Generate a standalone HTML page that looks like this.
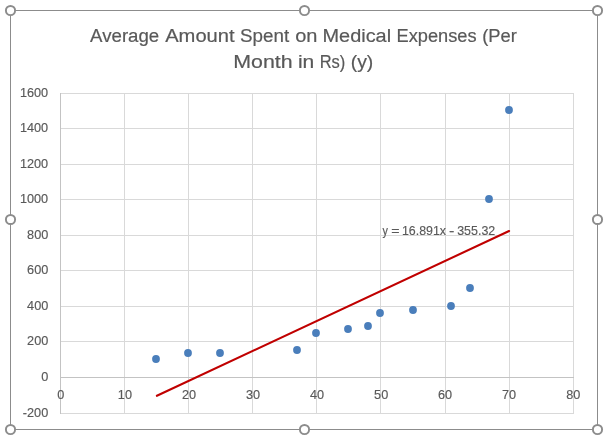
<!DOCTYPE html>
<html lang="en"><head><meta charset="utf-8"><title>Chart</title>
<style>html,body{margin:0;padding:0;background:#fff}body{width:605px;height:439px;overflow:hidden}svg{display:block}text{font-family:"Liberation Sans",sans-serif;fill:#595959;stroke:#595959;stroke-width:.15px}</style></head><body>
<svg width="605" height="439" viewBox="0 0 605 439">
<rect width="605" height="439" fill="#fff"/>
<rect x="10.5" y="10.5" width="587" height="419" fill="none" stroke="#8c8c8c" stroke-width="1"/>
<path d="M60 93.5H574M60 128.5H574M60 164.5H574M60 199.5H574M60 235.5H574M60 270.5H574M60 306.5H574M60 341.5H574M60 377.5H574M60 413.5H574M60.5 93V414M124.5 93V414M188.5 93V414M252.5 93V414M316.5 93V414M380.5 93V414M445.5 93V414M509.5 93V414M573.5 93V414" fill="none" stroke="#d9d9d9" stroke-width="1"/>
<path d="M60.5 93V414M60 377.5H574" fill="none" stroke="#c3c3c3" stroke-width="1"/>
<text id="t1" y="42" font-size="18.8" style="stroke-width:.2px"><tspan x="90.08" textLength="69.14" lengthAdjust="spacingAndGlyphs">Average</tspan> <tspan x="165.17" textLength="69.45" lengthAdjust="spacingAndGlyphs">Amount</tspan> <tspan x="240.02" textLength="49.12" lengthAdjust="spacingAndGlyphs">Spent</tspan> <tspan x="295.2" textLength="22.25" lengthAdjust="spacingAndGlyphs">on</tspan> <tspan x="322.51" textLength="68.58" lengthAdjust="spacingAndGlyphs">Medical</tspan> <tspan x="396.54" textLength="80.07" lengthAdjust="spacingAndGlyphs">Expenses</tspan> <tspan x="482.2" textLength="34.65" lengthAdjust="spacingAndGlyphs">(Per</tspan></text>
<text id="t2" y="68" font-size="18.8" style="stroke-width:.2px"><tspan x="233.29" textLength="59.37" lengthAdjust="spacingAndGlyphs">Month</tspan> <tspan x="297.9" textLength="16.4" lengthAdjust="spacingAndGlyphs">in</tspan> <tspan x="319.68" textLength="25.69" lengthAdjust="spacingAndGlyphs">Rs)</tspan> <tspan x="350.74" textLength="22.55" lengthAdjust="spacingAndGlyphs">(y)</tspan></text>
<text x="19.95" y="97.0" font-size="12.7">1600</text>
<text x="19.95" y="132.0" font-size="12.7">1400</text>
<text x="19.95" y="168.0" font-size="12.7">1200</text>
<text x="19.95" y="203.0" font-size="12.7">1000</text>
<text x="27.08" y="239.0" font-size="12.7">800</text>
<text x="27.08" y="274.0" font-size="12.7">600</text>
<text x="27.08" y="310.0" font-size="12.7">400</text>
<text x="27.08" y="345.0" font-size="12.7">200</text>
<text x="41.20" y="381.0" font-size="12.7">0</text>
<text x="22.83" y="417.0" font-size="12.7">-200</text>
<text x="57.15" y="399" font-size="12.7">0</text>
<text x="117.84" y="399" font-size="12.7">10</text>
<text x="182.03" y="399" font-size="12.7">20</text>
<text x="245.94" y="399" font-size="12.7">30</text>
<text x="310.06" y="399" font-size="12.7">40</text>
<text x="374.09" y="399" font-size="12.7">50</text>
<text x="437.98" y="399" font-size="12.7">60</text>
<text x="501.98" y="399" font-size="12.7">70</text>
<text x="566.19" y="399" font-size="12.7">80</text>
<path d="M156.9 395.8L509.1 231" stroke="#c00000" stroke-width="2.1" fill="none" stroke-linecap="round"/>
<circle cx="156" cy="359" r="3.9" fill="#4a7ebb"/>
<circle cx="188" cy="353" r="3.9" fill="#4a7ebb"/>
<circle cx="220" cy="353" r="3.9" fill="#4a7ebb"/>
<circle cx="297" cy="350" r="3.9" fill="#4a7ebb"/>
<circle cx="316" cy="333" r="3.9" fill="#4a7ebb"/>
<circle cx="348" cy="329" r="3.9" fill="#4a7ebb"/>
<circle cx="368" cy="326" r="3.9" fill="#4a7ebb"/>
<circle cx="380" cy="313" r="3.9" fill="#4a7ebb"/>
<circle cx="413" cy="310" r="3.9" fill="#4a7ebb"/>
<circle cx="451" cy="306" r="3.9" fill="#4a7ebb"/>
<circle cx="470" cy="288" r="3.9" fill="#4a7ebb"/>
<circle cx="489" cy="199" r="3.9" fill="#4a7ebb"/>
<circle cx="509" cy="110" r="3.9" fill="#4a7ebb"/>
<text id="eq" y="235" font-size="12.7"><tspan x="382.49" textLength="5.39" lengthAdjust="spacingAndGlyphs">y</tspan> <tspan x="391.2" textLength="8.36" lengthAdjust="spacingAndGlyphs">=</tspan> <tspan x="401.92" textLength="44.13" lengthAdjust="spacingAndGlyphs">16.891x</tspan> <tspan x="449.11" textLength="5.36" lengthAdjust="spacingAndGlyphs">-</tspan> <tspan x="457.21" textLength="38.06" lengthAdjust="spacingAndGlyphs">355.32</tspan></text>
<circle cx="10.5" cy="10.5" r="4.6" fill="#fff" stroke="#8c8c8c" stroke-width="1.95"/>
<circle cx="304.5" cy="10.5" r="4.6" fill="#fff" stroke="#8c8c8c" stroke-width="1.95"/>
<circle cx="597.5" cy="10.5" r="4.6" fill="#fff" stroke="#8c8c8c" stroke-width="1.95"/>
<circle cx="10.5" cy="219.5" r="4.6" fill="#fff" stroke="#8c8c8c" stroke-width="1.95"/>
<circle cx="597.5" cy="219.5" r="4.6" fill="#fff" stroke="#8c8c8c" stroke-width="1.95"/>
<circle cx="10.5" cy="429.5" r="4.6" fill="#fff" stroke="#8c8c8c" stroke-width="1.95"/>
<circle cx="304.5" cy="429.5" r="4.6" fill="#fff" stroke="#8c8c8c" stroke-width="1.95"/>
<circle cx="597.5" cy="429.5" r="4.6" fill="#fff" stroke="#8c8c8c" stroke-width="1.95"/>
</svg></body></html>
